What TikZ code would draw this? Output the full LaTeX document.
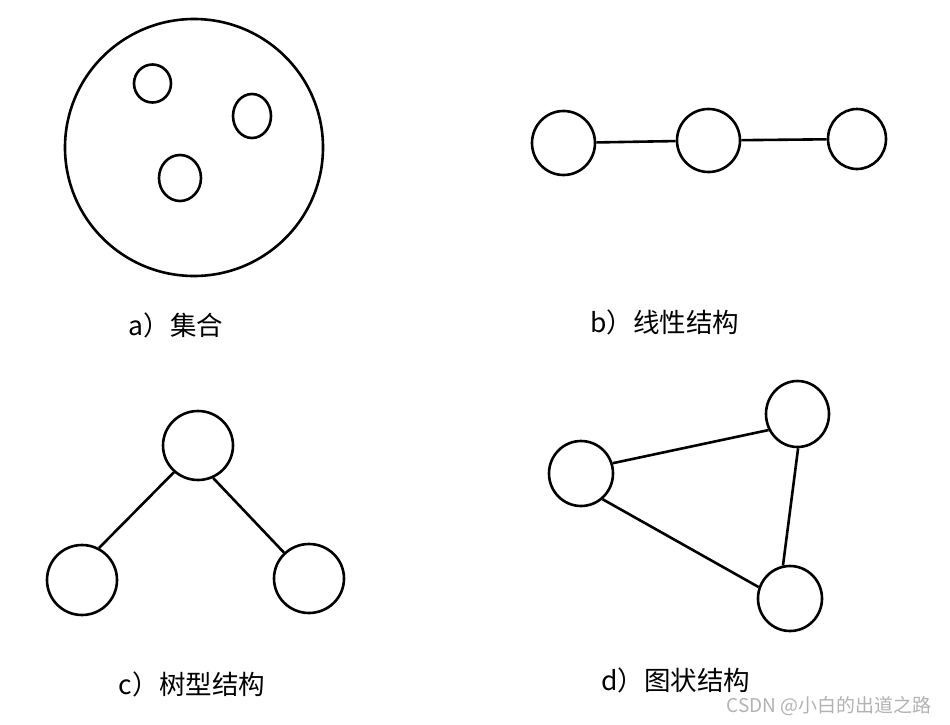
\documentclass[tikz,border=0pt]{standalone}
\usepackage{fontspec}
\setmainfont{Noto Sans CJK SC}
\usetikzlibrary{shapes.geometric}
\begin{document}
\begin{tikzpicture}[x=1pt,y=-1pt,
  nd/.style={draw, ellipse, inner sep=0pt, line width=2.6pt},
  ln/.style={line width=2.6pt},
  lab/.style={font=\fontsize{26.5}{30}\selectfont, inner sep=0pt},
  wm/.style={font=\fontsize{19}{22}\selectfont, text=black!30, inner sep=0pt}]
\useasboundingbox (0,0) rectangle (950,725);
% a) set
\node[nd, minimum width=258pt, minimum height=257pt] (S) at (194,147.5) {};
\node[nd, minimum width=37pt, minimum height=38pt] (E1) at (152.5,83.5) {};
\node[nd, minimum width=38pt, minimum height=44pt] (E2) at (252,116) {};
\node[nd, minimum width=42pt, minimum height=46pt] (E3) at (180,178) {};
\node[lab] (la) at (176,325) {a）集合};
% b) linear
\node[nd, minimum width=63pt, minimum height=64pt] (L1) at (563.5,143) {};
\node[nd, minimum width=63pt, minimum height=63pt] (L2) at (708.5,140.5) {};
\node[nd, minimum width=58pt, minimum height=60pt] (L3) at (857,139) {};
\draw[ln] (L1) -- (L2);
\draw[ln] (L2) -- (L3);
\node[lab] (lb) at (665,322) {b）线性结构};
% c) tree
\node[nd, minimum width=70pt, minimum height=69pt] (T) at (198,445.5) {};
\node[nd, minimum width=70pt, minimum height=70pt] (TL) at (82,580) {};
\node[nd, minimum width=70pt, minimum height=69pt] (TR) at (309,578.5) {};
\draw[ln] (T.228) -- (TL.62);
\draw[ln] (T.295) -- (TR.134);
\node[lab] (lc) at (192,684) {c）树型结构};
% d) graph
\node[nd, minimum width=64pt, minimum height=65pt] (G1) at (581,473.5) {};
\node[nd, minimum width=63pt, minimum height=66pt] (G2) at (797.5,414) {};
\node[nd, minimum width=64pt, minimum height=65pt] (G3) at (790,598.5) {};
\draw[ln] (G1.18) -- (G2.209);
\draw[ln] (G2.271) -- (G3.102);
\draw[ln] (G1.310) -- (G3.160);
\node[lab] (ld) at (676,680) {d）图状结构};
% watermark
\node[wm] (w) at (829,706) {CSDN @小白的出道之路};
\end{tikzpicture}
\end{document}
